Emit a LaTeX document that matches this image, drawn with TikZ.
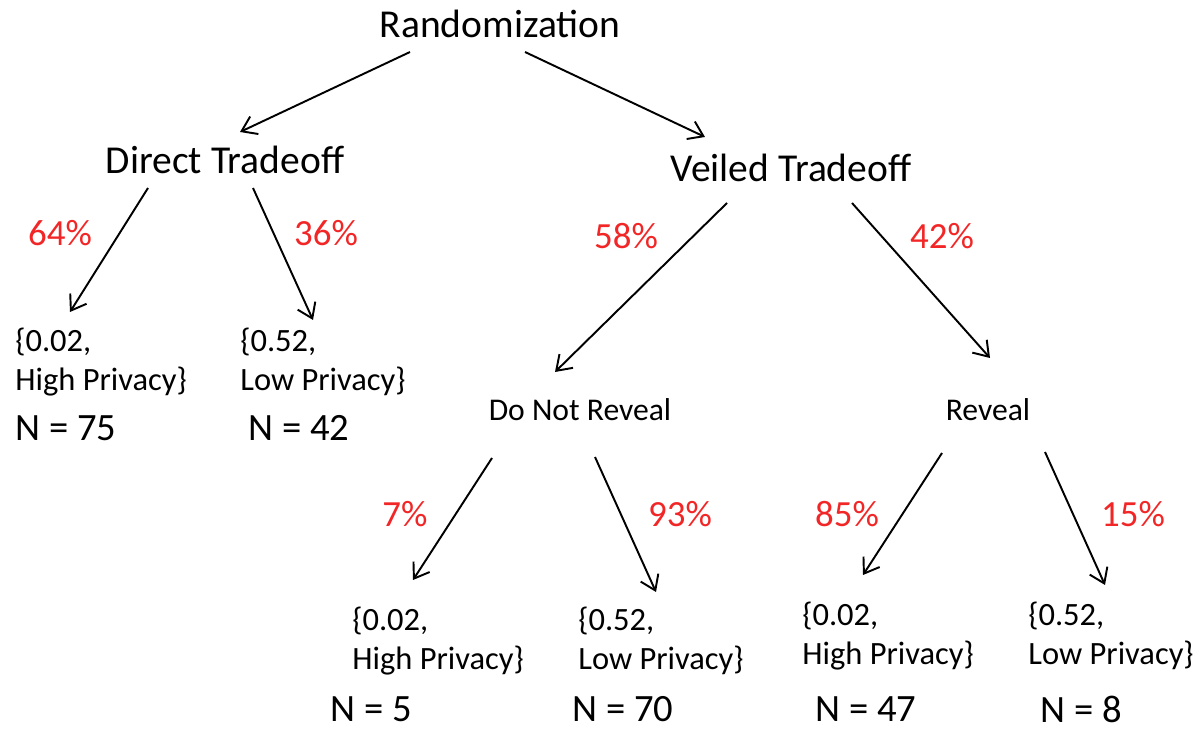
\documentclass[tikz,border=0pt]{standalone}
\usepackage{fontspec}
\setmainfont{Carlito}
\usetikzlibrary{calc, arrows.meta}
\definecolor{pctred}{RGB}{242,38,38}

\begin{document}
\begin{tikzpicture}[x=0.02cm, y=-0.02cm,
    every node/.style={inner sep=0pt},
    head/.style={font=\fontsize{22.5}{26}\selectfont},
    sub/.style={font=\fontsize{18}{22}\selectfont},
    pct/.style={font=\fontsize{21}{24}\selectfont, text=pctred},
    leaf/.style={font=\fontsize{18.5}{22}\selectfont, align=left, anchor=west},
    count/.style={font=\fontsize{22}{25}\selectfont, anchor=west},
    arr/.style={-{Straight Barb[length=8pt,width=11pt]}, line width=1.1pt}]
    \useasboundingbox (0,0) rectangle (1203,732);

    \node[head] (rand) at (500,24) {Randomization};
    \node[head] (direct) at (225,160) {Direct Tradeoff};
    \node[head] (veiled) at (791,168) {Veiled Tradeoff};
    \node[sub] (dnr) at (580,410) {Do Not Reveal};
    \node[sub] (rev) at (988,410) {Reveal};

    \node[pct] (p64) at (60,233) {64\%};
    \node[pct] (p36) at (326,233) {36\%};
    \node[pct] (p58) at (626,236) {58\%};
    \node[pct] (p42) at (942,236) {42\%};
    \node[pct] (p7) at (405,514) {7\%};
    \node[pct] (p93) at (680,514) {93\%};
    \node[pct] (p85) at (847,514) {85\%};
    \node[pct] (p15) at (1133,514) {15\%};

    \node[leaf] (dhigh) at (15,362) {\{0.02,\\High Privacy\}};
    \node[leaf] (dlow) at (240,362) {\{0.52,\\Low Privacy\}};
    \node[leaf] (nhigh) at (352,641) {\{0.02,\\High Privacy\}};
    \node[leaf] (nlow) at (578,641) {\{0.52,\\Low Privacy\}};
    \node[leaf] (rhigh) at (802,636) {\{0.02,\\High Privacy\}};
    \node[leaf] (rlow) at (1028,636) {\{0.52,\\Low Privacy\}};

    \node[count] (c75) at (15,428) {N = 75};
    \node[count] (c42) at (248,428) {N = 42};
    \node[count] (c5) at (330,709) {N = 5};
    \node[count] (c70) at (572,709) {N = 70};
    \node[count] (c47) at (815,709) {N = 47};
    \node[count] (c8) at (1040,709) {N = 8};

    \draw[arr] ($(rand)+(-90,28)$) -- ($(direct)+(15,-28)$);
    \draw[arr] ($(rand)+(25,28)$) -- ($(veiled)+(-86,-31)$);
    \draw[arr] ($(direct)+(-77,28)$) -- ($(dhigh.west)+(55,-50)$);
    \draw[arr] ($(direct)+(28,28)$) -- ($(dlow.west)+(73,-42)$);
    \draw[arr] ($(veiled)+(-64,35)$) -- ($(dnr)+(-25,-38)$);
    \draw[arr] ($(veiled)+(61,35)$) -- ($(rev)+(2,-52)$);
    \draw[arr] ($(dnr)+(-88,48)$) -- ($(nhigh.west)+(61,-61)$);
    \draw[arr] ($(dnr)+(15,47)$) -- ($(nlow.west)+(78,-49)$);
    \draw[arr] ($(rev)+(-46,43)$) -- ($(rhigh.west)+(61,-61)$);
    \draw[arr] ($(rev)+(57,42)$) -- ($(rlow.west)+(77,-51)$);
\end{tikzpicture}
\end{document}
